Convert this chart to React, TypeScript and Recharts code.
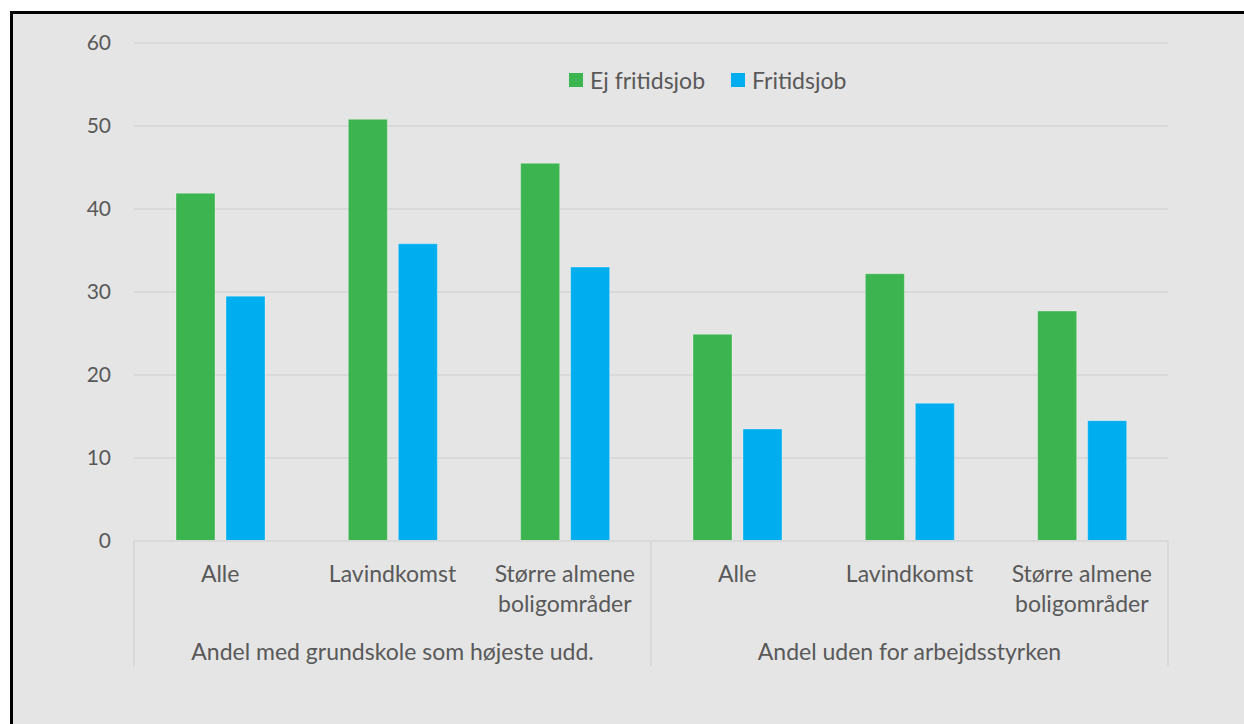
import React from "react";
import { BarChart, Bar, XAxis, YAxis, CartesianGrid, Legend } from "recharts";

const groupLabels = ["Andel med grundskole som højeste udd.", "Andel uden for arbejdsstyrken"];
const categories = ["Alle", "Lavindkomst", "Større almene boligområder"];
const ejFritidsjob = [41.9, 50.8, 45.5, 24.9, 32.2, 27.7];
const fritidsjob = [29.5, 35.8, 33.0, 13.5, 16.6, 14.5];
const yTicks = [0, 10, 20, 30, 40, 50, 60];

const GREEN = "#3cb44f";
const BLUE = "#00aeef";
const TEXT = "#595959";
const GRID = "#d9d9d9";
const FONT = "Lato, 'Noto Sans', sans-serif";
const LABEL_SIZE = 23;

const W = 1244;
const H = 724;
const PLOT_W = 1168 - 134;

const data = groupLabels.flatMap((group, g) =>
  categories.map((cat, c) => ({
    key: `${g}-${c}`,
    cat,
    group,
    pos: c,
    ej: ejFritidsjob[g * categories.length + c],
    fri: fritidsjob[g * categories.length + c],
  }))
);

// simple word wrap for the category labels
function wrap(text: string, max: number) {
  const lines: string[] = [];
  let cur = "";
  for (const w of text.split(" ")) {
    if (cur && (cur + " " + w).length > max) {
      lines.push(cur);
      cur = w;
    } else {
      cur = cur ? cur + " " + w : w;
    }
  }
  if (cur) lines.push(cur);
  return lines;
}

function CategoryTick(props: any) {
  const { x, y, payload, index, width } = props;
  const i = payload?.index ?? index;
  const row = data[i];
  if (!row) return null;
  const bw = (typeof width === "number" ? width : PLOT_W) / data.length;
  const lines = wrap(row.cat, 14);
  const textProps = {
    textAnchor: "middle" as const,
    dominantBaseline: "central" as const,
    fill: TEXT,
    fontSize: LABEL_SIZE,
    fontFamily: FONT,
  };
  return (
    <g>
      {lines.map((l, k) => (
        <text key={k} x={x} y={y + 32 + k * 30} {...textProps}>
          {l}
        </text>
      ))}
      {row.pos === 1 && (
        <text x={x} y={y + 110} {...textProps}>
          {row.group}
        </text>
      )}
      {row.pos === 0 && (
        <line x1={x - bw / 2} x2={x - bw / 2} y1={y} y2={y + 125} stroke={GRID} strokeWidth={2} />
      )}
      {row.pos === categories.length - 1 && (
        <line x1={x + bw / 2} x2={x + bw / 2} y1={y} y2={y + 125} stroke={GRID} strokeWidth={2} />
      )}
    </g>
  );
}

function LegendContent() {
  const items = [
    { label: "Ej fritidsjob", color: GREEN },
    { label: "Fritidsjob", color: BLUE },
  ];
  return (
    <div style={{ display: "flex", alignItems: "center", fontFamily: FONT, fontSize: LABEL_SIZE, color: TEXT }}>
      {items.map((it) => (
        <div key={it.label} style={{ display: "flex", alignItems: "center", marginRight: 26 }}>
          <span style={{ width: 14, height: 14, background: it.color, marginRight: 7, display: "inline-block" }} />
          <span>{it.label}</span>
        </div>
      ))}
    </div>
  );
}

export default function App() {
  return (
    <div style={{ position: "absolute", left: 0, top: 0, width: W, height: H, overflow: "hidden", background: "#fff" }}>
      <div
        style={{
          position: "absolute",
          left: 10,
          top: 11,
          width: W,
          height: H,
          background: "#e5e5e5",
          borderLeft: "3px solid #000",
          borderTop: "3px solid #000",
        }}
      />
      <div style={{ position: "absolute", left: 0, top: 0 }}>
        <BarChart
          width={W}
          height={H}
          data={data}
          margin={{ top: 43, right: 76, left: 0, bottom: 0 }}
          barSize={39}
          barGap={11}
          style={{ fontFamily: FONT }}
        >
          <CartesianGrid horizontal vertical={false} stroke={GRID} strokeWidth={2} />
          <XAxis
            dataKey="key"
            height={183}
            interval={0}
            tickSize={0}
            tickMargin={0}
            tickLine={false}
            axisLine={{ stroke: GRID, strokeWidth: 2 }}
            tick={<CategoryTick />}
          />
          <YAxis
            width={134}
            domain={[0, 60]}
            ticks={yTicks}
            axisLine={false}
            tickLine={false}
            tickSize={0}
            tickMargin={23}
            tick={{ fill: TEXT, fontSize: 21, fontFamily: FONT }}
          />
          <Legend
            verticalAlign="middle"
            align="center"
            layout="horizontal"
            wrapperStyle={{ left: 569, top: 66, width: "auto" }}
            content={<LegendContent />}
          />
          <Bar dataKey="ej" name="Ej fritidsjob" fill={GREEN} stroke="#ffffff" strokeOpacity={0.3} strokeWidth={1} isAnimationActive={false} />
          <Bar dataKey="fri" name="Fritidsjob" fill={BLUE} stroke="#ffffff" strokeOpacity={0.3} strokeWidth={1} isAnimationActive={false} />
        </BarChart>
      </div>
    </div>
  );
}
